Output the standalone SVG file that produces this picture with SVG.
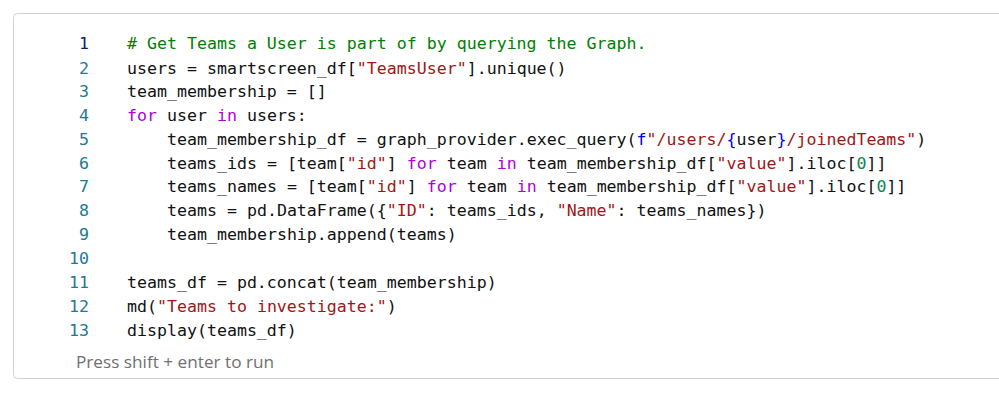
<svg xmlns="http://www.w3.org/2000/svg" width="999" height="400" viewBox="0 0 999 400">
<style>
.c{font-family:"DejaVu Sans Mono","Liberation Mono",monospace;font-size:16.6px;fill:#111111;white-space:pre}
.n{font-family:"DejaVu Sans Mono","Liberation Mono",monospace;font-size:16.6px;fill:#237893;text-anchor:end}
.a{fill:#0b216f}
.g{fill:#008000}.s{fill:#a31515}.k{fill:#af00db}.b{fill:#0000ff}.t{fill:#098658}
.h{font-family:"Open Sans","Liberation Sans",sans-serif;font-size:17.2px;fill:#707070}
</style>
<rect width="999" height="400" fill="#ffffff"/>
<g id="cell">
<rect x="13.500" y="13.500" width="990" height="365" rx="4" fill="#ffffff" stroke="#d2d2d2"/>
</g>
<g id="line-numbers">
<text class="n a" x="89" y="49">1</text>
<text class="n" x="89" y="74">2</text>
<text class="n" x="89" y="97">3</text>
<text class="n" x="89" y="121">4</text>
<text class="n" x="89" y="145">5</text>
<text class="n" x="89" y="169">6</text>
<text class="n" x="89" y="192">7</text>
<text class="n" x="89" y="216">8</text>
<text class="n" x="89" y="240">9</text>
<text class="n" x="89" y="264">10</text>
<text class="n" x="89" y="288">11</text>
<text class="n" x="89" y="312">12</text>
<text class="n" x="89" y="336">13</text>
</g>
<g id="code">
<text class="c" x="127" y="49"><tspan class="g"># Get Teams a User is part of by querying the Graph.</tspan></text>
<text class="c" x="127" y="74">users = smartscreen_df[<tspan class="s">"TeamsUser"</tspan>].unique()</text>
<text class="c" x="127" y="97">team_membership = []</text>
<text class="c" x="127" y="121"><tspan class="k">for</tspan> user <tspan class="k">in</tspan> users:</text>
<text class="c" x="167" y="145">team_membership_df = graph_provider.exec_query(<tspan class="b">f</tspan><tspan class="s">"/users/</tspan><tspan class="b">{</tspan>user<tspan class="b">}</tspan><tspan class="s">/joinedTeams"</tspan>)</text>
<text class="c" x="167" y="169">teams_ids = [team[<tspan class="s">"id"</tspan>] <tspan class="k">for</tspan> team <tspan class="k">in</tspan> team_membership_df[<tspan class="s">"value"</tspan>].iloc[<tspan class="t">0</tspan>]]</text>
<text class="c" x="167" y="192">teams_names = [team[<tspan class="s">"id"</tspan>] <tspan class="k">for</tspan> team <tspan class="k">in</tspan> team_membership_df[<tspan class="s">"value"</tspan>].iloc[<tspan class="t">0</tspan>]]</text>
<text class="c" x="167" y="216">teams = pd.DataFrame({<tspan class="s">"ID"</tspan>: teams_ids, <tspan class="s">"Name"</tspan>: teams_names})</text>
<text class="c" x="167" y="240">team_membership.append(teams)</text>
<text class="c" x="127" y="288">teams_df = pd.concat(team_membership)</text>
<text class="c" x="127" y="312">md(<tspan class="s">"Teams to investigate:"</tspan>)</text>
<text class="c" x="127" y="336">display(teams_df)</text>
</g>
<text class="h" x="76" y="368">Press shift + enter to run</text>
</svg>
